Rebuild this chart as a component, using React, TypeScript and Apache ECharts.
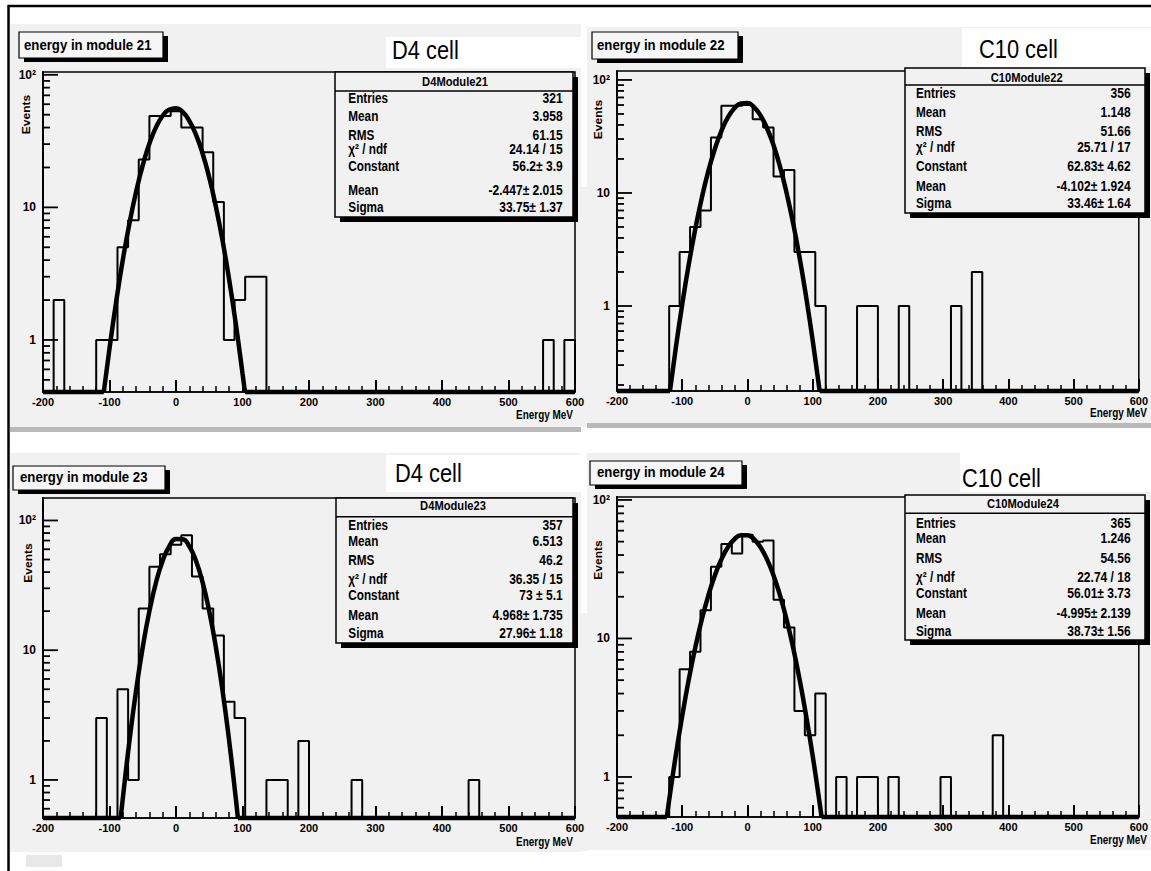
import React, { useEffect, useRef } from "react";
import * as echarts from "echarts";

// ---------------- DATA ----------------
// histogram bin lower edges (16 MeV bins, -200..600)
const binEdges = [
  -200, -184, -168, -152, -136, -120, -104, -88, -72, -56,
  -40, -24, -8, 8, 24, 40, 56, 72, 88, 104,
  120, 136, 152, 168, 184, 200, 216, 232, 248, 264,
  280, 296, 312, 328, 344, 360, 376, 392, 408, 424,
  440, 456, 472, 488, 504, 520, 536, 552, 568, 584,
];
const xMin = -200;
const xMax = 600;

// bin contents (events) per module
const counts21 = [
  0, 2, 0, 0, 0, 1, 1, 5, 8, 23, 49, 49, 53, 40, 40, 26, 11, 1, 2, 3,
  3, 0, 0, 0, 0, 0, 0, 0, 0, 0, 0, 0, 0, 0, 0, 0, 0, 0, 0, 0,
  0, 0, 0, 0, 0, 0, 0, 1, 0, 1,
];
const counts22 = [
  0, 0, 0, 0, 0, 1, 3, 5, 7, 31, 59, 59, 60, 45, 38, 14, 16, 3, 3, 1,
  0, 0, 0, 1, 1, 0, 0, 1, 0, 0, 0, 0, 1, 0, 2, 0, 0, 0, 0, 0,
  0, 0, 0, 0, 0, 0, 0, 0, 0, 0,
];
const counts23 = [
  0, 0, 0, 0, 0, 3, 0, 5, 1, 21, 44, 55, 65, 77, 37, 21, 13, 4, 3, 0,
  0, 1, 1, 0, 2, 0, 0, 0, 0, 1, 0, 0, 0, 0, 0, 0, 0, 0, 0, 0,
  1, 0, 0, 0, 0, 0, 0, 0, 0, 0,
];
const counts24 = [
  0, 0, 0, 0, 0, 1, 6, 8, 16, 33, 48, 41, 56, 50, 51, 19, 12, 3, 2, 4,
  0, 1, 0, 1, 1, 0, 1, 0, 0, 0, 0, 1, 0, 0, 0, 0, 2, 0, 0, 0,
  0, 0, 0, 0, 0, 0, 0, 0, 0, 0,
];

// gaussian fit curves (x in MeV, y in events)
const fitX21 = [-108.6, -100, -90, -80, -70, -60, -50, -40, -30, -20, -10, 0, 10, 20, 30, 40, 50, 60, 70, 80, 90, 100, 103.7];
const fitY21 = [0.405, 0.862, 1.94, 4.01, 7.58, 13.1, 20.8, 30.3, 40.3, 49.1, 54.8, 56.05, 52.5, 45.0, 35.4, 25.5, 16.8, 10.1, 5.61, 2.84, 1.32, 0.561, 0.405];

const fitX22 = [-118.8, -110, -100, -90, -80, -70, -60, -50, -40, -30, -20, -10, 0, 10, 20, 30, 40, 50, 60, 70, 80, 90, 100, 110.6];
const fitY22 = [0.177, 0.42, 1.034, 2.33, 4.8, 9.03, 15.6, 24.5, 35.3, 46.6, 56.1, 61.9, 62.4, 57.5, 48.5, 37.4, 26.4, 17.0, 10.0, 5.41, 2.67, 1.2, 0.497, 0.177];

const fitX23 = [-83.1, -80, -70, -60, -50, -40, -30, -20, -10, 0, 10, 20, 30, 40, 50, 60, 70, 80, 90, 93.1];
const fitY23 = [0.509, 0.72, 2.0, 4.91, 10.56, 20.0, 33.4, 49.0, 63.3, 71.9, 71.8, 63.2, 48.9, 33.3, 19.95, 10.5, 4.88, 1.99, 0.716, 0.509];

const fitX24 = [-123.6, -120, -110, -100, -90, -80, -70, -60, -50, -40, -30, -20, -10, 0, 10, 20, 30, 40, 50, 60, 70, 80, 90, 100, 110, 113.6];
const fitY24 = [0.514, 0.682, 1.42, 2.76, 5.04, 8.59, 13.7, 20.4, 28.5, 37.2, 45.5, 52.0, 55.5, 55.5, 52.0, 45.5, 37.2, 28.5, 20.4, 13.7, 8.59, 5.04, 2.76, 1.42, 0.682, 0.514];

// y-axis (log) ranges
const yRange21 = [0.405, 105];
const yRange22 = [0.177, 120];
const yRange23 = [0.509, 149];
const yRange24 = [0.514, 105];

// y-axis tick values (log axis)
const yMajorTicks = [1, 10, 100];
const yMinorTicks = [0.2, 0.3, 0.4, 0.5, 0.6, 0.7, 0.8, 0.9, 2, 3, 4, 5, 6, 7, 8, 9, 20, 30, 40, 50, 60, 70, 80, 90];

// texts
const panelTitles = ["energy in module 21", "energy in module 22", "energy in module 23", "energy in module 24"];
const cellLabels = ["D4 cell", "C10 cell", "D4 cell", "C10 cell"];
const statNames = ["D4Module21", "C10Module22", "D4Module23", "C10Module24"];
const statLabels = ["Entries", "Mean", "RMS", "\u03C7\u00B2 / ndf", "Constant", "Mean", "Sigma"];
const stats21 = ["321", "3.958", "61.15", "24.14 / 15", "56.2\u00B1 3.9", "-2.447\u00B1 2.015", "33.75\u00B1 1.37"];
const stats22 = ["356", "1.148", "51.66", "25.71 / 17", "62.83\u00B1 4.62", "-4.102\u00B1 1.924", "33.46\u00B1 1.64"];
const stats23 = ["357", "6.513", "46.2", "36.35 / 15", "73 \u00B1 5.1", "4.968\u00B1 1.735", "27.96\u00B1 1.18"];
const stats24 = ["365", "1.246", "54.56", "22.74 / 18", "56.01\u00B1 3.73", "-4.995\u00B1 2.139", "38.73\u00B1 1.56"];
const xTitle = "Energy MeV";
const yTitle = "Events";

// ---------------- LAYOUT ----------------
const FONT = '"Liberation Sans", Arial, Helvetica, sans-serif';
const PANEL_BG = "#f1f1f1";

const panels = [
  {
    counts: counts21, fitX: fitX21, fitY: fitY21, yRange: yRange21, stats: stats21,
    grid: { left: 43, top: 72, width: 532, height: 320 },
    bg: [10, 24, 571, 408], strip: [10, 427, 571, 5],
    title: { box: [19, 32, 144, 26], tx: 24, ty: 45 },
    cell: { box: [386, 37, 199, 31], tx: 392, ty: 49.3 },
    stat: { box: [335, 72, 238, 145], hy: 81.7, ly: 91, hx: 455, lx: 348.3, rx: 562.7, rows: [97.7, 116.3, 135, 149.3, 166, 190, 207] },
    events: [26, 114.5], energy: [573, 415],
  },
  {
    counts: counts22, fitX: fitX22, fitY: fitY22, yRange: yRange22, stats: stats22,
    grid: { left: 617, top: 71, width: 530, height: 320 },
    bg: [587, 27, 564, 401], strip: [587, 423, 564, 5],
    title: { box: [592, 32, 146, 27], tx: 597, ty: 45 },
    cell: { box: [962, 28, 189, 39], tx: 979, ty: 48.5 },
    stat: { box: [905, 68, 240, 145], hy: 77.3, ly: 85, hx: 1026.7, lx: 916, rx: 1130.7, rows: [93.3, 112.3, 131, 147.3, 166, 186, 202.7] },
    events: [598, 119.5], energy: [1147, 413],
  },
  {
    counts: counts23, fitX: fitX23, fitY: fitY23, yRange: yRange23, stats: stats23,
    grid: { left: 43, top: 498, width: 532, height: 320 },
    bg: [10, 453, 571, 399], strip: null,
    title: { box: [13, 466, 152, 24], tx: 20, ty: 476.5 },
    cell: { box: [386, 455, 199, 37], tx: 395, ty: 472.7 },
    stat: { box: [336, 498, 237, 145], hy: 506, ly: 516.7, hx: 453, lx: 348.3, rx: 562.7, rows: [525, 541, 560, 579.3, 595, 615, 633.3] },
    events: [28, 563], energy: [573, 842],
  },
  {
    counts: counts24, fitX: fitX24, fitY: fitY24, yRange: yRange24, stats: stats24,
    grid: { left: 617, top: 497, width: 530, height: 320 },
    bg: [587, 453, 564, 397], strip: null,
    title: { box: [590, 461, 152, 24], tx: 597, ty: 472 },
    cell: { box: [960, 453, 191, 39], tx: 962, ty: 477.7 },
    stat: { box: [905, 495, 240, 145], hy: 504, ly: 513.3, hx: 1023, lx: 916, rx: 1130.7, rows: [522.7, 538.3, 557.7, 576.7, 592.7, 612.7, 630.7] },
    events: [598.5, 560], energy: [1147, 840],
  },
];

// ---------------- helpers ----------------
function rect(b: number[], fill: string, z: number, stroke?: string, lw?: number) {
  return {
    type: "rect", silent: true, z,
    shape: { x: b[0], y: b[1], width: b[2], height: b[3] },
    style: { fill, stroke: stroke || null, lineWidth: lw || 0 },
  };
}
function seg(x1: number, y1: number, x2: number, y2: number, w: number, z: number) {
  return { type: "line", silent: true, z, shape: { x1, y1, x2, y2 }, style: { stroke: "#000", lineWidth: w } };
}
function txt(x: number, y: number, s: string, size: number, o: any = {}) {
  return {
    type: "text", silent: true, z: o.z ?? 30, x, y,
    scaleX: o.sx ?? 1, rotation: o.rot ?? 0,
    style: {
      text: s, x: 0, y: 0, fill: "#000",
      font: `${o.weight ?? "bold"} ${size}px ${FONT}`,
      textAlign: o.align ?? "left", textVerticalAlign: "middle",
    },
  };
}

function yLabel(v: number) {
  const l = Math.log10(v);
  const e = Math.round(l);
  if (Math.abs(l - e) > 1e-6) return "";
  if (e === 0) return "1";
  if (e === 1) return "10";
  if (e === 2) return "10\u00B2";
  return "";
}

function buildOption() {
  const grid: any[] = [];
  const xAxis: any[] = [];
  const yAxis: any[] = [];
  const series: any[] = [];
  const g: any[] = [];

  // outer border lines
  g.push(seg(8, 6, 1151, 6, 2.5, 40));
  g.push(seg(8.5, 5, 8.5, 871, 2.5, 40));
  // grey fillers between panels
  g.push(rect([580, 187, 8, 240], PANEL_BG, -10));
  g.push(rect([580, 613, 8, 238], PANEL_BG, -10));
  g.push(rect([26, 855, 36, 12], "#e8e8e8", -10));

  panels.forEach((p, i) => {
    const [yMin, yMax] = p.yRange;
    grid.push({ ...p.grid, show: true, borderColor: "#000", borderWidth: 1.5, backgroundColor: "transparent", z: 1 });
    xAxis.push({
      type: "value", gridIndex: i, min: xMin, max: xMax, interval: 100,
      axisLine: { show: true, onZero: false, lineStyle: { color: "#000", width: 1.5 } },
      axisTick: { show: true, inside: true, length: 12, lineStyle: { color: "#000", width: 2 } },
      minorTick: { show: true, splitNumber: 5, length: 6, lineStyle: { color: "#000", width: 1.5 } },
      axisLabel: { show: true, color: "#000", fontSize: 11, fontWeight: "bold", fontFamily: FONT, margin: 4 },
      splitLine: { show: false },
      z: 6,
    });
    yAxis.push({
      type: "log", logBase: 10, gridIndex: i, min: yMin, max: yMax,
      axisLine: { show: true, onZero: false, lineStyle: { color: "#000", width: 2 } },
      axisTick: { show: false },
      axisLabel: { show: true, color: "#000", fontSize: 12, fontWeight: "bold", fontFamily: FONT, margin: 7, formatter: yLabel },
      splitLine: { show: false },
      z: 6,
    });

    // histogram outline
    const hist: number[][] = binEdges.map((e, k) => [e, p.counts[k] > 0 ? p.counts[k] : yMin]);
    const last = p.counts[p.counts.length - 1];
    hist.push([xMax, last > 0 ? last : yMin]);
    hist.push([xMax, yMin]);
    series.push({
      type: "line", xAxisIndex: i, yAxisIndex: i, data: hist, step: "end", symbol: "none",
      lineStyle: { color: "#000", width: 2 }, silent: true, z: 3,
    });
    // gaussian fit
    series.push({
      type: "line", xAxisIndex: i, yAxisIndex: i, symbol: "none", smooth: true,
      data: p.fitX.map((x, j) => [x, p.fitY[j]]),
      lineStyle: { color: "#000", width: 4.5 }, clip: false, silent: true, z: 4,
    });
    // fit clipped at the axis minimum
    series.push({
      type: "line", xAxisIndex: i, yAxisIndex: i, symbol: "none",
      data: [[xMin, yMin], [p.fitX[0], yMin]],
      lineStyle: { color: "#000", width: 4.5 }, clip: false, silent: true, z: 4,
    });
    series.push({
      type: "line", xAxisIndex: i, yAxisIndex: i, symbol: "none",
      data: [[p.fitX[p.fitX.length - 1], yMin], [xMax, yMin]],
      lineStyle: { color: "#000", width: 4.5 }, clip: false, silent: true, z: 4,
    });
    // y-axis ticks (log spaced, pointing right)
    const ticks = [
      ...yMajorTicks.filter((v) => v > yMin && v < yMax).map((v) => [xMin, v, 15]),
      ...yMinorTicks.filter((v) => v > yMin && v < yMax).map((v) => [xMin, v, 7]),
    ];
    series.push({
      type: "custom", coordinateSystem: "cartesian2d", xAxisIndex: i, yAxisIndex: i,
      dimensions: ["x", "y", "len"],
      encode: { x: 0, y: 1 },
      data: ticks, silent: true, clip: false, z: 7,
      renderItem: (params: any, api: any) => {
        const pt = api.coord([api.value(0), api.value(1)]);
        const len = Number(api.value(2)) || 7;
        return {
          type: "line",
          shape: { x1: pt[0], y1: pt[1], x2: pt[0] + len, y2: pt[1] },
          style: { stroke: "#000", lineWidth: 1.8 },
        };
      },
    });

    // panel background
    g.push(rect(p.bg, PANEL_BG, -10));
    if (p.strip) g.push(rect(p.strip, "#b9b9b9", -9));
    // white box behind cell label
    g.push(rect(p.cell.box, "#ffffff", -8));
    g.push(txt(p.cell.tx, p.cell.ty, cellLabels[i], 26, { weight: "normal", sx: 0.84 }));
    // title box
    const tb = p.title.box;
    g.push(rect([tb[0] + 5, tb[1] + 4, tb[2], tb[3]], "#000", 20));
    g.push(rect(tb, "#f6f6f6", 21, "#000", 1.2));
    g.push(txt(p.title.tx, p.title.ty, panelTitles[i], 15, { sx: 0.88, z: 22 }));
    // stat box
    const sb = p.stat.box;
    g.push(rect([sb[0] + 5, sb[1] + 5, sb[2], sb[3]], "#000", 20));
    g.push(rect(sb, PANEL_BG, 21, "#000", 1.5));
    g.push(seg(sb[0], p.stat.ly, sb[0] + sb[2], p.stat.ly, 1.5, 22));
    g.push(txt(p.stat.hx, p.stat.hy, statNames[i], 13, { sx: 0.86, align: "center", z: 22 }));
    statLabels.forEach((lab, r) => {
      g.push(txt(p.stat.lx, p.stat.rows[r], lab, 14, { sx: 0.84, z: 22 }));
      g.push(txt(p.stat.rx, p.stat.rows[r], p.stats[r], 14, { sx: 0.86, align: "right", z: 22 }));
    });
    // axis titles
    g.push(txt(p.events[0], p.events[1], yTitle, 10, { rot: Math.PI / 2, align: "center", sx: 1.2 }));
    g.push(txt(p.energy[0], p.energy[1], xTitle, 12, { align: "right", sx: 0.83 }));
  });

  return {
    animation: false,
    backgroundColor: "#ffffff",
    grid, xAxis, yAxis, series,
    graphic: { elements: g },
  };
}

export default function App() {
  const ref = useRef<HTMLDivElement>(null);
  useEffect(() => {
    if (!ref.current) return;
    const chart = echarts.init(ref.current, undefined, { renderer: "svg" });
    chart.setOption(buildOption() as any);
    return () => chart.dispose();
  }, []);
  return (
    <div
      ref={ref}
      style={{ position: "absolute", left: 0, top: 0, width: 1151, height: 871, background: "#fff" }}
    />
  );
}
